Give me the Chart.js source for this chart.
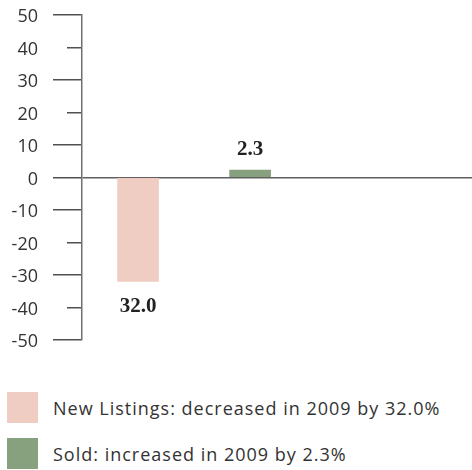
<!DOCTYPE html>
<html>
<head>
<meta charset="utf-8">
<script src="https://cdn.jsdelivr.net/npm/chart.js@4"></script>
<style>
  html, body { margin: 0; padding: 0; background: #fff; }
  #wrap { position: relative; width: 472px; height: 470px; }
  #chartBox { position: absolute; left: 0; top: 0; width: 472px; height: 360px; }
  .leg { position: absolute; left: 7px; display: flex; align-items: center; font-family: "Open Sans", sans-serif; font-size: 18px; letter-spacing: 1px; color: #333; white-space: nowrap; }
  .leg .sw { width: 31px; height: 31px; margin-right: 15px; }
</style>
</head>
<body>
<div id="wrap">
  <div id="chartBox"><canvas id="c" width="472" height="360"></canvas></div>
  <div id="legend"></div>
</div>
<script>
const categories = ['New Listings', 'Sold'];
const values = [-32.0, 2.3];
const legendLabels = ['New Listings: decreased in 2009 by 32.0%', 'Sold: increased in 2009 by 2.3%'];
const yTicks = [50, 40, 30, 20, 10, 0, -10, -20, -30, -40, -50];
const colors = ['#f0cdc2', '#87a07d'];

const datasets = categories.map((name, i) => ({
  label: name,
  data: [{ x: i + 0.5, y: values[i] }],
  backgroundColor: colors[i],
  borderWidth: 0,
  barThickness: 41,
  grouped: false
}));

const valueLabels = {
  id: 'valueLabels',
  afterDatasetsDraw(chart) {
    const ctx = chart.ctx;
    ctx.save();
    ctx.font = 'bold 21px "Liberation Serif", serif';
    ctx.fillStyle = '#222';
    ctx.textAlign = 'center';
    ctx.textBaseline = 'middle';
    chart.data.datasets.forEach((ds, di) => {
      const meta = chart.getDatasetMeta(di);
      meta.data.forEach((el, j) => {
        const v = ds.data[j].y;
        const txt = Math.abs(v).toFixed(1);
        const y = v >= 0 ? el.y - 20 : el.y + 25;
        ctx.fillText(txt, el.x, y);
      });
    });
    ctx.restore();
  }
};

new Chart(document.getElementById('c'), {
  type: 'bar',
  data: { datasets },
  plugins: [valueLabels],
  options: {
    responsive: false,
    animation: false,
    layout: { padding: { top: 15, bottom: 20, left: 0, right: 0 } },
    plugins: { legend: { display: false }, tooltip: { enabled: false } },
    scales: {
      x: { type: 'linear', min: 0, max: 3.48, offset: false, display: false },
      y: {
        min: -50, max: 50,
        afterBuildTicks(scale) { scale.ticks = yTicks.map(v => ({ value: v })); },
        afterFit(scale) { scale.width = 82; scale.paddingTop = 0; scale.paddingBottom = 0; },
        border: { display: true, color: '#707070', width: 1.5 },
        grid: {
          drawOnChartArea: true,
          drawTicks: true,
          tickLength: 29,
          color: (c) => (c.tick && c.tick.value === 0) ? '#606060' : 'rgba(0,0,0,0)',
          lineWidth: 1.5,
          tickColor: '#505050',
          tickWidth: 1.5,
          tickBorderDash: (c) => (c.tick && Math.abs(c.tick.value) % 20 === 0 && c.tick.value !== 0) ? [0, 14, 16, 100] : []
        },
        ticks: {
          padding: 15,
          labelOffset: 2,
          color: '#333',
          font: { family: '"Open Sans", sans-serif', size: 18 },
          callback: (v) => String(v)
        }
      }
    }
  }
});

const legend = document.getElementById('legend');
const legTops = [392, 438];
legendLabels.forEach((t, i) => {
  const d = document.createElement('div');
  d.className = 'leg';
  d.style.top = legTops[i] + 'px';
  const sw = document.createElement('div');
  sw.className = 'sw';
  sw.style.background = colors[i];
  const sp = document.createElement('span');
  sp.textContent = t;
  d.appendChild(sw);
  d.appendChild(sp);
  legend.appendChild(d);
});
</script>
</body>
</html>
